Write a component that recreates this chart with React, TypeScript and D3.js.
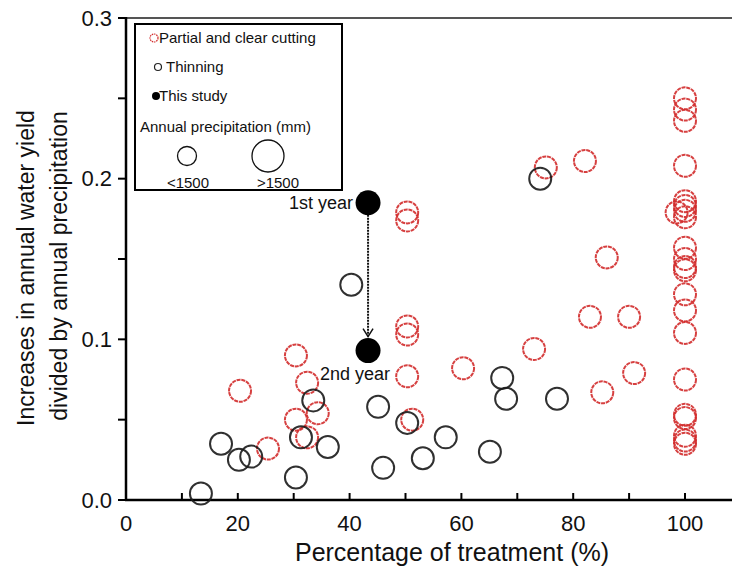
import React from "react";
import * as d3 from "d3";

const cuttingX = [20.4, 25.4, 30.4, 30.4, 32.4, 34.3, 32.4, 50.3, 50.3, 50.3, 50.3, 50.3, 51.2, 60.3, 73.0, 75.1, 82.1, 86.0, 83.0, 90.0, 90.9, 85.2,
  100, 100, 100, 100, 100, 100, 100, 100, 98.5, 100, 100, 100, 100, 100, 100, 100, 100, 100, 100, 100, 100, 100];
const cuttingY = [0.068, 0.032, 0.090, 0.050, 0.073, 0.054, 0.039, 0.179, 0.174, 0.108, 0.103, 0.077, 0.050, 0.082, 0.094, 0.207, 0.211, 0.151, 0.114, 0.114, 0.079, 0.067,
  0.250, 0.243, 0.236, 0.208, 0.186, 0.183, 0.180, 0.176, 0.179, 0.157, 0.150, 0.145, 0.143, 0.128, 0.118, 0.104, 0.075, 0.053, 0.051, 0.040, 0.037, 0.035];

const thinningX = [13.4, 17.0, 20.2, 22.4, 30.4, 31.3, 33.5, 36.1, 40.3, 45.1, 46.0, 50.3, 53.1, 57.2, 65.1, 67.3, 68.0, 77.1, 74.1];
const thinningY = [0.004, 0.035, 0.025, 0.027, 0.014, 0.039, 0.062, 0.033, 0.134, 0.058, 0.020, 0.048, 0.026, 0.039, 0.030, 0.076, 0.063, 0.063, 0.200];

const studyX = [43.3, 43.3];
const studyY = [0.185, 0.093];
const studyLabels = ["1st year", "2nd year"];

const xTicks = [0, 10, 20, 30, 40, 50, 60, 70, 80, 90, 100];
const xTickLabels = [0, 20, 40, 60, 80, 100];
const yTicks = [0, 0.05, 0.1, 0.15, 0.2, 0.25, 0.3];
const yTickLabels = [0, 0.1, 0.2, 0.3];

const legendItems = ["Partial and clear cutting", "Thinning", "This study"];
const sizeLabels = ["<1500", ">1500"];

const FONT = "Arial, 'Liberation Sans', sans-serif";
const RED = "#d22b2b";

export default function App() {
  const x = d3.scaleLinear().domain([0, 100]).range([126, 685]);
  const y = d3.scaleLinear().domain([0, 0.3]).range([500, 18]);
  const r = 11;

  const s1 = { x: x(studyX[0]), y: y(studyY[0]) };
  const s2 = { x: x(studyX[1]), y: y(studyY[1]) };

  return (
    <svg width={732} height={572} style={{ position: "absolute", left: 0, top: 0, background: "#fff" }} fontFamily={FONT}>
      {/* top border */}
      <line x1={126} x2={732} y1={18} y2={18} stroke="#555" strokeWidth={2} />
      {/* axes */}
      <line x1={126} x2={126} y1={17} y2={501} stroke="#000" strokeWidth={2.5} />
      <line x1={125} x2={732} y1={500} y2={500} stroke="#000" strokeWidth={2.5} />
      {yTicks.map((t) => (
        <line key={"yt" + t} x1={118} x2={126} y1={y(t)} y2={y(t)} stroke="#000" strokeWidth={2} />
      ))}
      {yTickLabels.map((t) => (
        <text key={"yl" + t} x={112} y={y(t)} dy="0.35em" textAnchor="end" fontSize={22} fill="#111">{d3.format(".1f")(t)}</text>
      ))}
      {xTicks.map((t) => (
        <line key={"xt" + t} x1={x(t)} x2={x(t)} y1={500} y2={493} stroke="#000" strokeWidth={2} />
      ))}
      {xTickLabels.map((t) => (
        <text key={"xl" + t} x={x(t)} y={523} dy="0.35em" textAnchor="middle" fontSize={22} fill="#111">{t}</text>
      ))}
      <text x={452} y={552} dy="0.35em" textAnchor="middle" fontSize={25} fill="#111">Percentage of treatment (%)</text>
      <text transform="translate(26,268) rotate(-90)" textAnchor="middle" dy="0.35em" fontSize={23} fill="#111">Increases in annual water yield</text>
      <text transform="translate(59,266) rotate(-90)" textAnchor="middle" dy="0.35em" fontSize={23} fill="#111">divided by annual precipitation</text>

      {/* data */}
      {cuttingX.map((v, i) => (
        <circle key={"c" + i} cx={x(v)} cy={y(cuttingY[i])} r={r} fill="none" stroke={RED} strokeWidth={2} strokeDasharray="4,0.8" opacity={0.9} />
      ))}
      {thinningX.map((v, i) => (
        <circle key={"t" + i} cx={x(v)} cy={y(thinningY[i])} r={r} fill="none" stroke="#1a1a1a" strokeWidth={2} opacity={0.9} />
      ))}

      {/* arrow */}
      <line x1={s1.x} x2={s2.x} y1={s1.y + 12} y2={s2.y - 14} stroke="#111" strokeWidth={2} strokeDasharray="2,1" />
      <polyline points={`${s2.x - 5},${s2.y - 22} ${s2.x},${s2.y - 14} ${s2.x + 5},${s2.y - 22}`} fill="none" stroke="#111" strokeWidth={1.5} />
      {studyX.map((v, i) => (
        <circle key={"s" + i} cx={x(v)} cy={y(studyY[i])} r={12.5} fill="#000" />
      ))}
      <text x={s1.x - 15} y={s1.y} dy="0.35em" textAnchor="end" fontSize={18} fill="#111">{studyLabels[0]}</text>
      <text x={s2.x - 48} y={s2.y + 23} dy="0.35em" textAnchor="start" fontSize={18} fill="#111">{studyLabels[1]}</text>

      {/* legend */}
      <rect x={135} y={24} width={207} height={166} fill="#fff" stroke="#000" strokeWidth={2} />
      <circle cx={154} cy={38} r={4} fill="none" stroke={RED} strokeWidth={1.2} strokeDasharray="1.5,0.8" />
      <text x={159} y={38} dy="0.35em" fontSize={15} fill="#111">{legendItems[0]}</text>
      <circle cx={158} cy={67} r={3.5} fill="none" stroke="#222" strokeWidth={1.2} />
      <text x={166} y={67} dy="0.35em" fontSize={15} fill="#111">{legendItems[1]}</text>
      <circle cx={156} cy={96} r={4} fill="#000" />
      <text x={159} y={96} dy="0.35em" fontSize={15} fill="#111">{legendItems[2]}</text>
      <text x={140} y={127} dy="0.35em" fontSize={15} fill="#111">Annual precipitation (mm)</text>
      <circle cx={187} cy={156} r={9.5} fill="none" stroke="#111" strokeWidth={1.3} />
      <circle cx={268} cy={156} r={16} fill="none" stroke="#111" strokeWidth={1.3} />
      <text x={188} y={183} dy="0.35em" textAnchor="middle" fontSize={15} fill="#111">{sizeLabels[0]}</text>
      <text x={278} y={183} dy="0.35em" textAnchor="middle" fontSize={15} fill="#111">{sizeLabels[1]}</text>
    </svg>
  );
}
